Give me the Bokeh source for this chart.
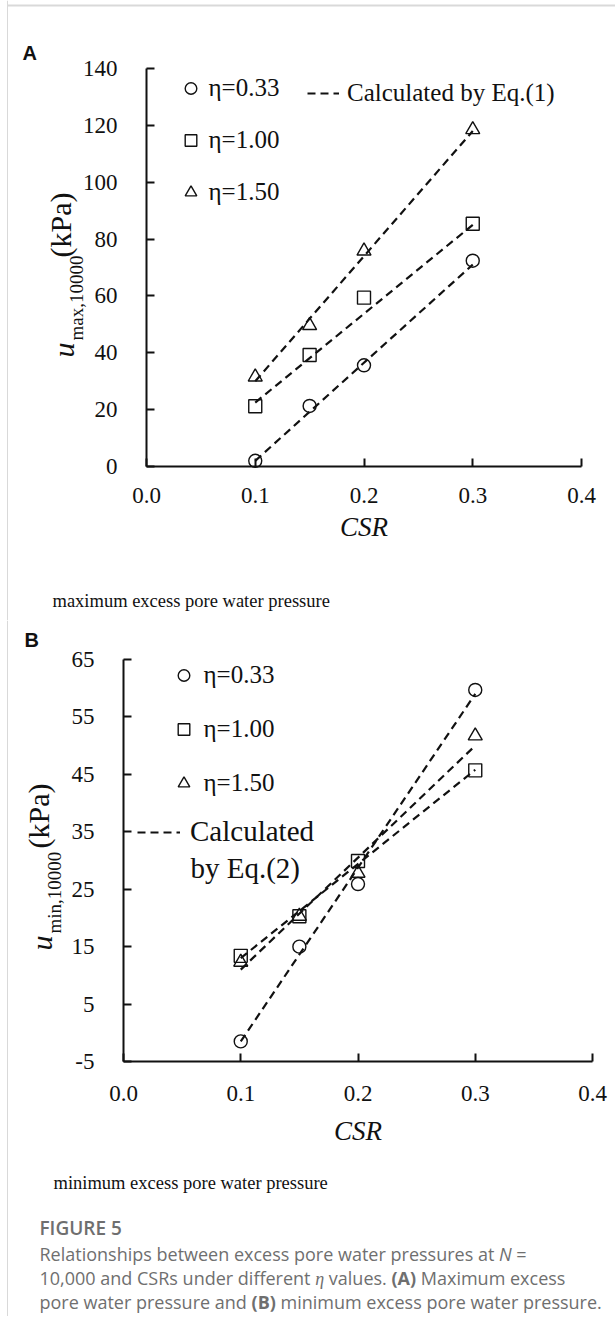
import math
from bokeh.plotting import figure
from bokeh.models import (Legend, LegendItem, Label, FixedTicker, LinearAxis,
                          NumeralTickFormatter, Range1d, Div, BoxAnnotation)
from bokeh.embed import file_html
from bokeh.resources import INLINE

# ---------------- data ----------------
csr = [0.10, 0.15, 0.20, 0.30]
fit_csr = [0.10, 0.30]

# (A) maximum excess pore water pressure (kPa)
a_eta033 = [2.0, 21.3, 35.6, 72.4]
a_eta100 = [21.2, 39.2, 59.4, 85.4]
a_eta150 = [31.5, 49.6, 75.8, 118.5]
a_fit033 = [2.0, 71.0]
a_fit100 = [22.5, 85.0]
a_fit150 = [30.0, 118.0]

# (B) minimum excess pore water pressure (kPa)
b_eta033 = [-1.5, 15.0, 25.9, 59.7]
b_eta100 = [13.4, 20.3, 29.9, 45.7]
b_eta150 = [12.3, 20.3, 27.8, 51.7]
b_fit033 = [-1.5, 59.0]
b_fit100 = [13.0, 45.8]
b_fit150 = [11.0, 50.0]

x_ticks = [0.0, 0.1, 0.2, 0.3, 0.4]
a_y_ticks = [0, 20, 40, 60, 80, 100, 120, 140]
b_y_ticks = [-5, 5, 15, 25, 35, 45, 55, 65]
eta_labels = ["η=0.33", "η=1.00", "η=1.50"]

SERIF = "Liberation Serif"
SANS = "Liberation Sans"
INK = "#111111"
DASH = "8 5"
BORDER = "#d9d9d9"
W = 615


def make_fig(H, fl, ft, fw, fh, xr, yr, yticks):
    """Whole canvas is the frame; axes are pinned at the data origin.
    fl/ft/fw/fh: pixel box where the data range xr/yr is drawn."""
    kx = (xr[1] - xr[0]) / fw
    ky = (yr[1] - yr[0]) / fh
    x0 = xr[0] - fl * kx
    x1 = xr[1] + (W - fl - fw) * kx
    y1 = yr[1] + ft * ky
    y0 = yr[0] - (H - ft - fh) * ky
    p = figure(width=W, height=H, min_border=0,
               x_range=Range1d(x0, x1), y_range=Range1d(y0, y1),
               x_axis_location=None, y_axis_location=None,
               output_backend="svg", toolbar_location=None, tools="")
    p.outline_line_color = None
    p.grid.visible = False
    p.background_fill_color = "white"
    p.border_fill_color = "white"
    xa = LinearAxis(fixed_location=yr[0], bounds=xr,
                    ticker=FixedTicker(ticks=x_ticks),
                    formatter=NumeralTickFormatter(format="0.0"))
    ya = LinearAxis(fixed_location=xr[0], bounds=yr,
                    ticker=FixedTicker(ticks=yticks))
    ya.major_label_overrides = {t: str(t) for t in yticks}
    for ax in (xa, ya):
        ax.axis_line_width = 2
        ax.axis_line_color = INK
        ax.major_tick_in = 8
        ax.major_tick_out = 0
        ax.major_tick_line_width = 2
        ax.major_tick_line_color = INK
        ax.minor_tick_line_color = None
        ax.major_label_text_font = SERIF
        ax.major_label_text_font_size = "23px"
        ax.major_label_text_color = INK
    ya.major_label_standoff = 29
    xa.axis_label = "CSR"
    xa.axis_label_text_font = SERIF
    xa.axis_label_text_font_style = "italic"
    xa.axis_label_text_font_size = "27px"
    xa.axis_label_text_color = INK
    p.add_layout(xa, "below")
    p.add_layout(ya, "left")
    # left edge of the page card
    p.add_layout(BoxAnnotation(left=6.5, right=7.5, bottom=0, top=H,
                               left_units="screen", right_units="screen",
                               bottom_units="screen", top_units="screen",
                               fill_color=BORDER, fill_alpha=1,
                               line_color=None))
    return p, xa, ya


def txt(p, H, px, py, text, size, font=SERIF, style="normal", align="left",
        baseline="middle", angle=0.0, color=INK):
    p.add_layout(Label(x=px, y=H - py, x_units="screen", y_units="screen",
                       text=text, text_font=font,
                       text_font_size=size, text_font_style=style,
                       text_align=align, text_baseline=baseline,
                       angle=angle, text_color=color))


def ylabel(p, H, base_x, u_start, sub_start, kpa_start, sub):
    """Rotated 'u_sub (kPa)'; base_x = baseline of the main text."""
    up = math.pi / 2
    txt(p, H, base_x - 10, u_start, "u", "30px", style="italic", angle=up)
    txt(p, H, base_x + 9 - 6.5, sub_start, sub, "19px", angle=up)
    txt(p, H, base_x - 13, kpa_start, "(kPa)", "30px", angle=up)


def plot_panel(p, ys, fits):
    markers = ["circle", "square", "triangle"]
    sizes = [13, 13, 14]
    rs = []
    for y, m, s in zip(ys, markers, sizes):
        rs.append(p.scatter(csr, y, marker=m, size=s, fill_color=None,
                            line_color=INK, line_width=1.4))
    ls = []
    for f in fits:
        ls.append(p.line(fit_csr, f, line_dash=DASH, line_width=2.2,
                         line_color=INK))
    return rs, ls


def legend(items, loc, gw, gh, spacing, standoff, size):
    return Legend(items=items, location=loc, orientation="vertical",
                  glyph_width=gw, glyph_height=gh, label_height=gh,
                  spacing=spacing, label_standoff=standoff, padding=0,
                  margin=0, border_line_color=None,
                  background_fill_alpha=0, label_text_font=SERIF,
                  label_text_font_size=size, label_text_color=INK)


# ---------------- panel A (page y 0..620) ----------------
HA = 620
pa, xa_a, ya_a = make_fig(HA, 146, 68, 435, 398, (0, 0.4), (0, 140),
                          a_y_ticks)
xa_a.major_label_standoff = 21
xa_a.axis_label_standoff = 6
ra, la = plot_panel(pa, [a_eta033, a_eta100, a_eta150],
                    [a_fit033, a_fit100, a_fit150])
pa.add_layout(legend([LegendItem(label=t, renderers=[r])
                      for t, r in zip(eta_labels, ra)],
                     (175.5, HA - 207.3), 29, 30, 22, 4, "25px"))
pa.add_layout(legend([LegendItem(label="Calculated by Eq.(1)",
                                 renderers=[la[0]])],
                     (307, HA - 108), 32, 30, 0, 8, "25px"))
pa.add_layout(BoxAnnotation(left=7, right=W, bottom=HA - 6, top=HA - 4,
                            left_units="screen", right_units="screen",
                            bottom_units="screen", top_units="screen",
                            fill_color=BORDER, fill_alpha=1,
                            line_color=None))

ylabel(pa, HA, 73, 357, 340, 257, "max,10000")
txt(pa, HA, 22, 52.5, "A", "20px", font=SANS, style="bold")
txt(pa, HA, 52, 600, "maximum excess pore water pressure", "18.5px")

# ---------------- panel B (page y 620..1205) ----------------
HB = 585
B0 = 620
pb, xa_b, ya_b = make_fig(HB, 123, 39, 469, 402, (0, 0.4), (-5, 65),
                          b_y_ticks)
xa_b.major_label_standoff = 24
xa_b.axis_label_standoff = 12
rb, lb = plot_panel(pb, [b_eta033, b_eta100, b_eta150],
                    [b_fit033, b_fit100, b_fit150])
pb.add_layout(legend([LegendItem(label=t, renderers=[r])
                      for t, r in zip(eta_labels, rb)],
                     (168.5, HB - (798.3 - B0)), 29, 30, 24, 6, "25px"))
pb.add_layout(legend([LegendItem(label="Calculated", renderers=[lb[0]])],
                     (137, HB - (848 - B0)), 43, 30, 0, 10, "29px"))

txt(pb, HB, 190, 867 - B0, "by Eq.(2)", "29px")
ylabel(pb, HB, 51, 950 - B0, 933 - B0, 848 - B0, "min,10000")
txt(pb, HB, 24, 639 - B0, "B", "20px", font=SANS, style="bold")
txt(pb, HB, 53, 1182 - B0, "minimum excess pore water pressure", "18.5px")

# ---------------- caption (page y 1205..) ----------------
cap = Div(width=W, height=122, margin=0, text=(
    "<div style=\"font-family:'Open Sans',sans-serif;color:#6f6f6f;"
    "margin-left:6.5px;border-left:1px solid " + BORDER + ";"
    "padding-left:32px;padding-top:11px;height:111px;white-space:nowrap;\">"
    "<div style=\"font-size:19px;font-weight:600;line-height:24px;\">FIGURE 5</div>"
    "<div style=\"font-size:18px;line-height:23.5px;margin-top:3px;\">"
    "Relationships between excess pore water pressures at <i>N</i> =<br>"
    "10,000 and CSRs under different <i style=\"font-family:'Liberation Serif'\">η</i>"
    " values. <b>(A)</b> Maximum excess<br>"
    "pore water pressure and <b>(B)</b> minimum excess pore water pressure."
    "</div></div>"))

open("out.html", "w").write(file_html([pa, pb, cap], INLINE))
